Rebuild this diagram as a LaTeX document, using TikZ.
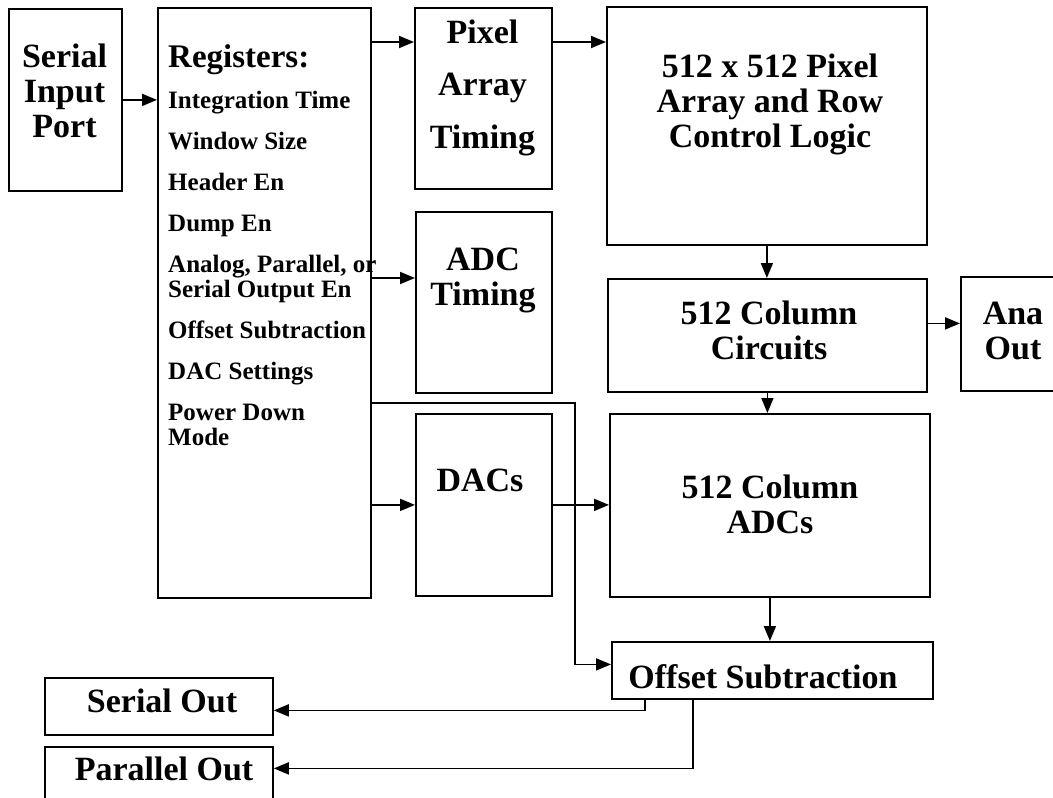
\documentclass[tikz,border=0pt]{standalone}
\usepackage{fontspec}
\setmainfont{Liberation Serif}
\usepackage{tikz}
\usetikzlibrary{arrows.meta,positioning}

\begin{document}
\begin{tikzpicture}[x=1pt, y=-1pt]
  % Define styles
  \tikzstyle{block} = [rectangle, draw, line width=1.8pt, inner sep=0pt, anchor=north west]
  \tikzstyle{title} = [font=\fontsize{34}{35}\selectfont\bfseries, align=center, anchor=base, inner sep=0pt]
  \tikzstyle{item} = [font=\fontsize{25}{25}\selectfont\bfseries, align=left, anchor=base west, inner sep=0pt]
  \tikzstyle{line} = [draw, -{Triangle[length=15pt, width=12pt]}, line width=1.8pt]

  \useasboundingbox (0,0) rectangle (1053,798);

  % Place nodes
  \node [block, minimum width=113pt, minimum height=182pt] (sip) at (8,8) {};
  \node [block, minimum width=213pt, minimum height=590pt] (regs) at (157,7) {};
  \node [block, minimum width=137pt, minimum height=181pt] (pat) at (414,7) {};
  \node [block, minimum width=136pt, minimum height=181pt] (adct) at (415,211) {};
  \node [block, minimum width=136pt, minimum height=182pt] (dacs) at (415,413) {};
  \node [block, minimum width=320pt, minimum height=238pt] (pix) at (606,6) {};
  \node [block, minimum width=319pt, minimum height=113pt] (colc) at (607,278) {};
  \node [block, minimum width=110pt, minimum height=114pt] (ana) at (960,276) {};
  \node [block, minimum width=320pt, minimum height=183pt] (adcs) at (609,413) {};
  \node [block, minimum width=321pt, minimum height=57pt] (offs) at (611,641) {};
  \node [block, minimum width=228pt, minimum height=57pt] (sout) at (44,677) {};
  \node [block, minimum width=228pt, minimum height=57pt] (pout) at (44,746) {};

  % Texts (base = last line)
  \node [title] (siptxt) at (64.5,137) {Serial\\Input\\Port};
  \node [item] (regtxt) at (168,445) {{\fontsize{33}{35}\selectfont Registers:}\\[16pt]
    Integration Time\\[16pt] Window Size\\[16pt] Header En\\[16pt] Dump En\\[16pt]
    Analog, Parallel, or\\ Serial Output En\\[16pt] Offset Subtraction\\[16pt]
    DAC Settings\\[16pt] Power Down\\ Mode};
  \node [title, font=\fontsize{34}{52.5}\selectfont\bfseries] (pattxt) at (482.5,148) {Pixel\\Array\\Timing};
  \node [title] (adcttxt) at (483,305) {ADC\\Timing};
  \node [title] (dacstxt) at (480,491) {DACs};
  \node [title] (pixtxt) at (770,147) {512 x 512 Pixel\\Array and Row\\Control Logic};
  \node [title] (colctxt) at (769,359) {512 Column\\Circuits};
  \node [title] (anatxt) at (1013,359) {Ana\\Out};
  \node [title] (adcstxt) at (770,533) {512 Column\\ADCs};
  \node [title] (offstxt) at (763,688) {Offset Subtraction};
  \node [title] (souttxt) at (162,712) {Serial Out};
  \node [title] (pouttxt) at (164,780) {Parallel Out};

  % Draw edges
  \coordinate (tap) at (575,403);
  \path [line] (sip.east) -- (sip.east -| regs.west);
  \path [line] ([yshift=-35pt]pat.north west -| regs.east) -- ([yshift=-35pt]pat.north west);
  \path [line] ([yshift=-35pt]pat.north east) -- ([yshift=-35pt]pat.north east -| pix.west);
  \path [line] ([yshift=-67pt]adct.north west -| regs.east) -- ([yshift=-67pt]adct.north west);
  \path [line] (dacs.west -| regs.east) -- (dacs.west);
  \path [line] (dacs.east) -- (dacs.east -| adcs.west);
  \path [line] (tap -| regs.east) -- (tap) |- ([yshift=6pt]offs.west);
  \path [line] (pix.south) -- (pix.south |- colc.north);
  \path [line] (colc.south) -- (colc.south |- adcs.north);
  \path [line] ([yshift=12pt]colc.east) -- ([yshift=12pt]colc.east -| ana.west);
  \path [line] (adcs.south) -- (adcs.south |- offs.north);
  \path [line] ([xshift=34pt]offs.south west) |- ([yshift=-4pt]sout.east);
  \path [line] ([xshift=82pt]offs.south west) |- ([yshift=7pt]pout.east);
\end{tikzpicture}
\end{document}
